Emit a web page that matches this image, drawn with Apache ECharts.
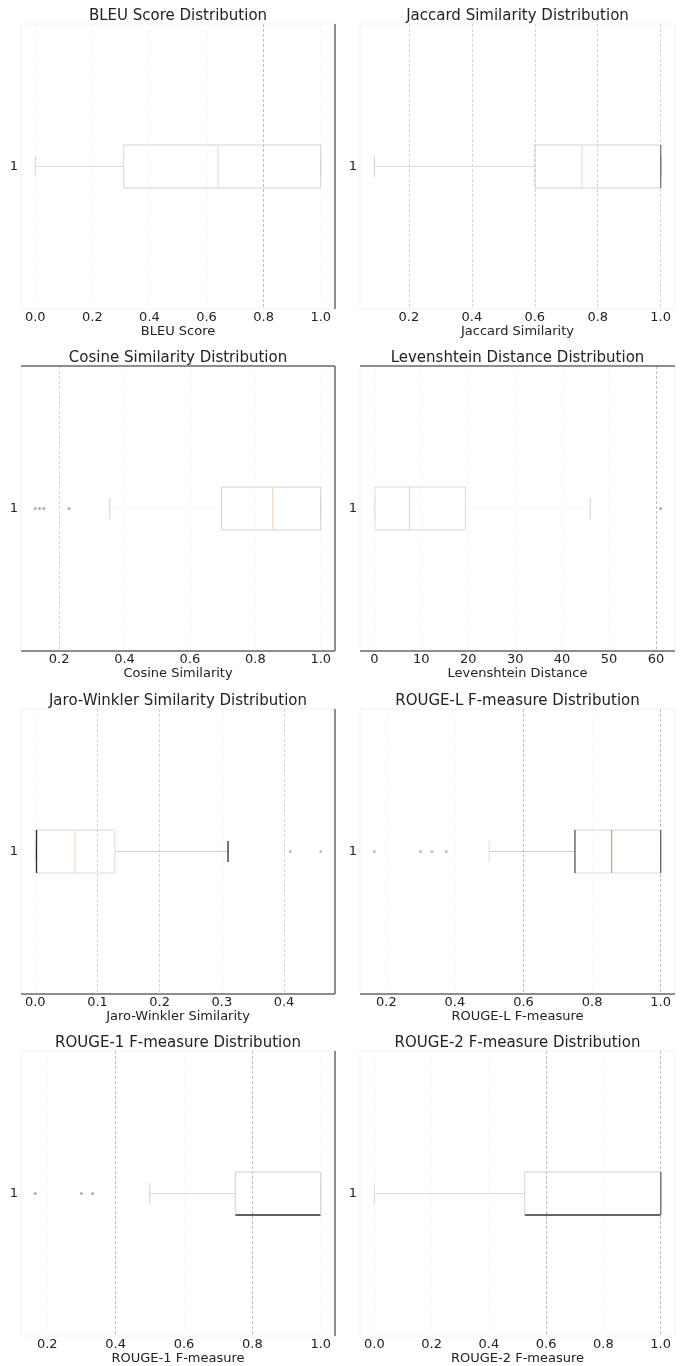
<!DOCTYPE html>
<html><head><meta charset="utf-8">
<script src="https://cdn.jsdelivr.net/npm/echarts@6/dist/echarts.min.js"></script>
<style>html,body{margin:0;padding:0;background:#fff}#c{width:686px;height:1366px}</style>
</head><body><div id="c"></div>
<script>
// ---------------- data ----------------
const titles = ['BLEU Score Distribution', 'Jaccard Similarity Distribution', 'Cosine Similarity Distribution', 'Levenshtein Distance Distribution',
  'Jaro-Winkler Similarity Distribution', 'ROUGE-L F-measure Distribution', 'ROUGE-1 F-measure Distribution', 'ROUGE-2 F-measure Distribution'];
const xLabels = ['BLEU Score', 'Jaccard Similarity', 'Cosine Similarity', 'Levenshtein Distance',
  'Jaro-Winkler Similarity', 'ROUGE-L F-measure', 'ROUGE-1 F-measure', 'ROUGE-2 F-measure'];
const categories = ['1'];
// [low whisker, Q1, median, Q3, high whisker]
const bleuStats = [0.0, 0.31, 0.64, 1.0, 1.0];
const bleuOutliers = [];
const jaccardStats = [0.09, 0.60, 0.75, 1.0, 1.0];
const jaccardOutliers = [];
const cosineStats = [0.355, 0.697, 0.853, 1.0, 1.0];
const cosineOutliers = [0.127, 0.14, 0.153, 0.23];
const levenshteinStats = [0, 0.15, 7.5, 19.4, 46];
const levenshteinOutliers = [61];
const jaroStats = [0.0, 0.002, 0.0635, 0.128, 0.31];
const jaroOutliers = [0.41, 0.459];
const rougeLStats = [0.5, 0.75, 0.857, 1.0, 1.0];
const rougeLOutliers = [0.165, 0.30, 0.333, 0.375];
const rouge1Stats = [0.5, 0.75, 1.0, 1.0, 1.0];
const rouge1Outliers = [0.165, 0.30, 0.333];
const rouge2Stats = [0.0, 0.525, 1.0, 1.0, 1.0];
const rouge2Outliers = [];

const allStats = [bleuStats, jaccardStats, cosineStats, levenshteinStats, jaroStats, rougeLStats, rouge1Stats, rouge2Stats];
const allOutliers = [bleuOutliers, jaccardOutliers, cosineOutliers, levenshteinOutliers, jaroOutliers, rougeLOutliers, rouge1Outliers, rouge2Outliers];

// ---------------- styles ----------------
const F = '#f5f5f5', V = '#d4d4d4', D = '#bdbdbd';
const LB = '#d2d2d2', DK = '#2a2a2a', MG = '#777777', MO = '#fcd6c0';
const styles = [
  {spines: ['right'], grid: [F, F, F, F, D, F], box: [LB, LB, LB, LB], med: MO, wLo: '#dcdcdc', wHi: LB, cLo: '#d6d6d6', cHi: LB, out: '#999'},
  {spines: [], grid: [V, V, V, V, V], box: [LB, LB, LB, MG], med: MO, wLo: '#dcdcdc', wHi: LB, cLo: '#d0d0d0', cHi: MG, out: '#999'},
  {spines: ['top', 'right', 'bottom'], grid: [V, F, F, F, F], box: [LB, LB, LB, LB], med: MO, wLo: '#fafafa', wHi: LB, cLo: '#cfcfcf', cHi: LB, out: '#999'},
  {spines: ['top', 'bottom'], grid: [F, F, F, F, F, F, D], box: ['#dadada', '#dadada', '#e0e0e0', '#dadada'], med: '#fcd0b4', wLo: '#e5e5e5', wHi: '#fafafa', cLo: '#e0e0e0', cHi: '#cfcfcf', out: '#999'},
  {spines: ['bottom', 'right'], grid: [F, V, V, F, V], box: ['#dadada', '#dadada', DK, '#dadada'], med: MO, wLo: '#e5e5e5', wHi: '#cfcfcf', cLo: '#e0e0e0', cHi: DK, out: '#aaa'},
  {spines: ['bottom'], grid: [F, F, D, F, D], box: ['#dadada', '#dadada', '#555', '#666'], med: '#ff9038', wLo: '#cfcfcf', wHi: LB, cLo: '#dadada', cHi: LB, out: '#aaa'},
  {spines: ['right'], grid: [F, D, F, D, F], box: ['#cfcfcf', DK, '#cfcfcf', '#d8d8d8'], med: '#d8d8d8', wLo: '#dadada', wHi: LB, cLo: '#d0d0d0', cHi: LB, out: '#999'},
  {spines: [], grid: [F, F, F, D, F, D], box: ['#cfcfcf', '#333', '#d4d4d4', MG], med: MG, wLo: '#dadada', wHi: LB, cLo: '#dadada', cHi: LB, out: '#999'}
];

// ---------------- layout ----------------
const colLeft = [21, 360], colWidth = [314, 315];
const rowTop = [24, 366, 709, 1051], plotH = 285;
const BOX_HALF = 21.5, CAP_HALF = 10.5;
const FONT = 'DejaVu Sans';

const grids = [], xAxes = [], yAxes = [], series = [], graphics = [];
allStats.forEach((st, i) => {
  const s = styles[i];
  const L = colLeft[i % 2], W = colWidth[i % 2], T = rowTop[Math.floor(i / 2)], H = plotH;
  grids.push({left: L, top: T, width: W, height: H, show: true, borderColor: '#f2f2f2', borderWidth: 1, backgroundColor: 'transparent'});
  const vals = st.concat(allOutliers[i]);
  const lo = Math.min.apply(null, vals), hi = Math.max.apply(null, vals);
  const pad = (hi - lo) * 0.05;
  const isInt = i === 3;
  xAxes.push({
    type: 'value', gridIndex: i, min: lo - pad, max: hi + pad, splitNumber: 5,
    name: xLabels[i], nameLocation: 'middle', nameGap: 14,
    nameTextStyle: {fontFamily: FONT, fontSize: 13, color: '#222'},
    axisLine: {show: false}, axisTick: {show: false},
    axisLabel: {showMinLabel: false, showMaxLabel: false, margin: 2, fontFamily: FONT, fontSize: 13, color: '#222',
      formatter: v => isInt ? String(Math.round(v)) : v.toFixed(1)},
    splitLine: {show: true, showMinLine: false, showMaxLine: false, lineStyle: {color: s.grid, width: 1, type: [3, 2]}}
  });
  yAxes.push({
    type: 'category', gridIndex: i, data: categories,
    axisLine: {show: false}, axisTick: {show: false}, splitLine: {show: false},
    axisLabel: {margin: 3, fontFamily: FONT, fontSize: 13, color: '#222'}
  });
  series.push({
    type: 'custom', xAxisIndex: i, yAxisIndex: i, clip: false, silent: true,
    data: [[0].concat(st)], encode: {y: 0, x: [1, 2, 3, 4, 5]},
    renderItem: (params, api) => {
      const y = api.coord([api.value(1), 0])[1];
      const X = k => api.coord([api.value(k), 0])[0];
      const xlo = X(1), q1 = X(2), md = X(3), q3 = X(4), xhi = X(5);
      const ln = (x1, y1, x2, y2, c, w) => ({type: 'line', shape: {x1, y1, x2, y2}, style: {stroke: c, lineWidth: w || 1}});
      const wOf = c => (c === DK || c === '#333' || c === '#555' || c === '#666' || c === MG) ? 1.3 : 1;
      const ch = [];
      if (q1 > xlo) ch.push(ln(xlo, y, q1, y, s.wLo));
      if (xhi > q3) ch.push(ln(q3, y, xhi, y, s.wHi));
      ch.push(ln(xlo, y - CAP_HALF, xlo, y + CAP_HALF, s.cLo, wOf(s.cLo)));
      ch.push(ln(xhi, y - CAP_HALF, xhi, y + CAP_HALF, s.cHi, wOf(s.cHi)));
      ch.push(ln(q1, y - BOX_HALF, q3, y - BOX_HALF, s.box[0], wOf(s.box[0])));
      ch.push(ln(q1, y + BOX_HALF, q3, y + BOX_HALF, s.box[1], wOf(s.box[1])));
      ch.push(ln(md, y - BOX_HALF, md, y + BOX_HALF, s.med, 1.2));
      ch.push(ln(q1, y - BOX_HALF, q1, y + BOX_HALF, s.box[2], wOf(s.box[2])));
      ch.push(ln(q3, y - BOX_HALF, q3, y + BOX_HALF, s.box[3], wOf(s.box[3])));
      return {type: 'group', children: ch};
    }
  });
  if (allOutliers[i].length) {
    series.push({
      type: 'scatter', xAxisIndex: i, yAxisIndex: i, silent: true, symbolSize: 3,
      itemStyle: {color: s.out}, data: allOutliers[i].map(v => [v, 0])
    });
  }
  graphics.push({type: 'text', x: L + W / 2, y: T - 8, style: {text: titles[i], fontFamily: FONT, fontSize: 15, fill: '#222', align: 'center', verticalAlign: 'middle'}});
  s.spines.forEach(sp => {
    let sh;
    if (sp === 'top') sh = {x1: L, y1: T, x2: L + W, y2: T};
    if (sp === 'bottom') sh = {x1: L, y1: T + H, x2: L + W, y2: T + H};
    if (sp === 'right') sh = {x1: L + W, y1: T, x2: L + W, y2: T + H};
    graphics.push({type: 'line', shape: sh, style: {stroke: '#6a6a6a', lineWidth: 1.5}, z: 10});
  });
});

const chart = echarts.init(document.getElementById('c'), null, {renderer: 'canvas'});
chart.setOption({
  animation: false, backgroundColor: '#fff',
  grid: grids, xAxis: xAxes, yAxis: yAxes, series: series, graphic: graphics
});
</script></body></html>
